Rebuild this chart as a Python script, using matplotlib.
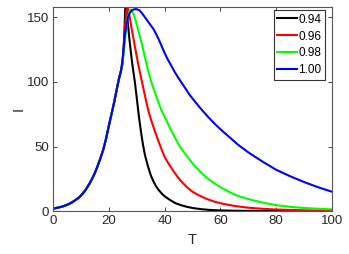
import matplotlib
matplotlib.use("Agg")
import matplotlib.pyplot as plt

plt.rcParams["font.family"] = ["Liberation Sans", "DejaVu Sans"]

# Shared rising branch (identical for all series)
t_rise = [0, 1, 2, 3, 4, 5, 6, 7, 8, 9, 10, 11, 12, 13, 14, 15, 16, 17, 18, 19, 20, 21, 22, 23, 23.7, 24.4]
i_rise = [2, 2.3, 2.8, 3.3, 4, 4.8, 5.8, 7, 8.5, 10, 12, 14.5, 17.5, 21, 25, 29.5, 35, 41, 47.5, 56, 66, 75.5, 85, 96, 103, 109]

# Branches after the split
t_094 = [24.9, 25.3, 25.6, 25.85, 26.05, 26.4, 26.8, 27.3, 27.8, 28.3, 28.8, 29.4, 30, 30.8, 31.5, 32.2, 33, 34, 35, 36, 37, 38, 39, 40,
         42, 44, 46, 48, 50, 53, 56, 60, 65, 70, 80, 90, 100]
i_094 = [114, 125, 140, 155, 161, 156, 146, 135, 125, 116, 108, 99, 88, 73, 62, 52, 43, 35, 28, 23, 19, 16, 13.5, 11.5,
         8.5, 6, 4.5, 3.3, 2.4, 1.5, 0.9, 0.5, 0.25, 0.1, 0.03, 0.0, 0.0]

t_096 = [24.9, 25.4, 25.8, 26.1, 26.4, 26.7, 27.1, 27.6, 28.2, 28.8, 29.4, 30, 30.6, 31.2, 31.8, 32.6, 33.5, 34.4, 35.4, 36.5, 37.5,
         38.7, 40, 41.5, 43, 44.5, 46, 48, 50, 52.5, 55, 58, 61, 65, 70, 75, 80, 90, 100]
i_096 = [115, 128, 142, 151, 156, 157.3, 155, 149, 141, 134, 127, 120, 113, 107, 101, 93, 84, 76, 69, 62, 56,
         49, 42, 36.5, 31.5, 27, 23, 18.5, 15, 12, 9.5, 7.2, 5.6, 4, 2.6, 1.8, 1.2, 0.6, 0.3]

t_098 = [24.9, 25.5, 26.1, 26.7, 27.2, 27.7, 28.2, 28.8, 29.5, 30.2, 31, 31.8, 32.6, 33.4, 34.2, 35.1, 36, 37, 38, 39, 40.5, 42,
         43.7, 45.5, 47.5, 50, 52.5, 55, 57.5, 60, 63, 66, 70, 75, 80, 85, 90, 95, 100]
i_098 = [115, 126, 139, 149, 154, 156, 155.5, 153, 148.5, 143, 136.5, 130, 122.5, 115, 108, 101, 95, 89, 83, 77.5, 71, 64,
         57, 50, 44, 37, 31, 26, 22, 18.5, 15, 12, 9.3, 6.6, 4.6, 3.3, 2.4, 1.8, 1.3]

t_100 = [24.9, 25.3, 25.7, 26.2, 26.8, 27.5, 28.3, 29.2, 30, 31, 32, 33, 34, 35, 36, 37, 38, 39, 40, 41, 42.3, 43.7, 45, 47, 49,
         51, 53.5, 56, 58.5, 61, 63.4, 66, 70, 75, 80, 85, 90, 95, 100]
i_100 = [117, 126, 135, 143, 149.5, 153.5, 155.6, 156.4, 156.4, 155.5, 153, 150, 147, 144, 141, 137, 132.5, 127.5, 122.5, 118, 113, 107.5, 103, 96.5, 90,
         84.5, 78, 72, 66.5, 61.5, 57, 52, 45.5, 38.5, 32, 27, 22.5, 18.5, 15]

labels = ["0.94", "0.96", "0.98", "1.00"]
colors = ["#000000", "#ff0000", "#00ff00", "#0000ff"]

x_ticks = [0, 20, 40, 60, 80, 100]
y_ticks = [0, 50, 100, 150]

fig = plt.figure(figsize=(3.49, 2.54), dpi=100)
ax = fig.add_axes([0.152, 0.169, 0.799, 0.803])

branches = [(t_094, i_094), (t_096, i_096), (t_098, i_098), (t_100, i_100)]
for (tb, ib), lab, col in zip(branches, labels, colors):
    ax.plot(t_rise + tb, i_rise + ib, color=col, lw=1.5, label=lab,
            solid_joinstyle="round")

ax.set_xlim(0, 100)
ax.set_ylim(0, 158)
ax.set_xticks(x_ticks)
ax.set_yticks(y_ticks)
ax.tick_params(direction="in", length=3, width=0.6, top=True, right=True,
               labelsize=9.5, colors="#262626", pad=3)
for s in ax.spines.values():
    s.set_color("#555555")
    s.set_linewidth(0.8)

ax.set_xlabel("T", fontsize=10.5, color="#262626", labelpad=4)
ax.set_ylabel("I", fontsize=10.5, color="#262626", labelpad=1)

leg = ax.legend(loc="upper right", fontsize=8.5, frameon=True, fancybox=False,
                edgecolor="#000000", handlelength=1.7, handletextpad=0.1,
                labelspacing=0.42, borderpad=0.3, borderaxespad=0.0,
                bbox_to_anchor=(325 / 349, 244 / 254), bbox_transform=fig.transFigure)
leg.get_frame().set_linewidth(0.8)

fig.savefig("out.png", dpi=100)
